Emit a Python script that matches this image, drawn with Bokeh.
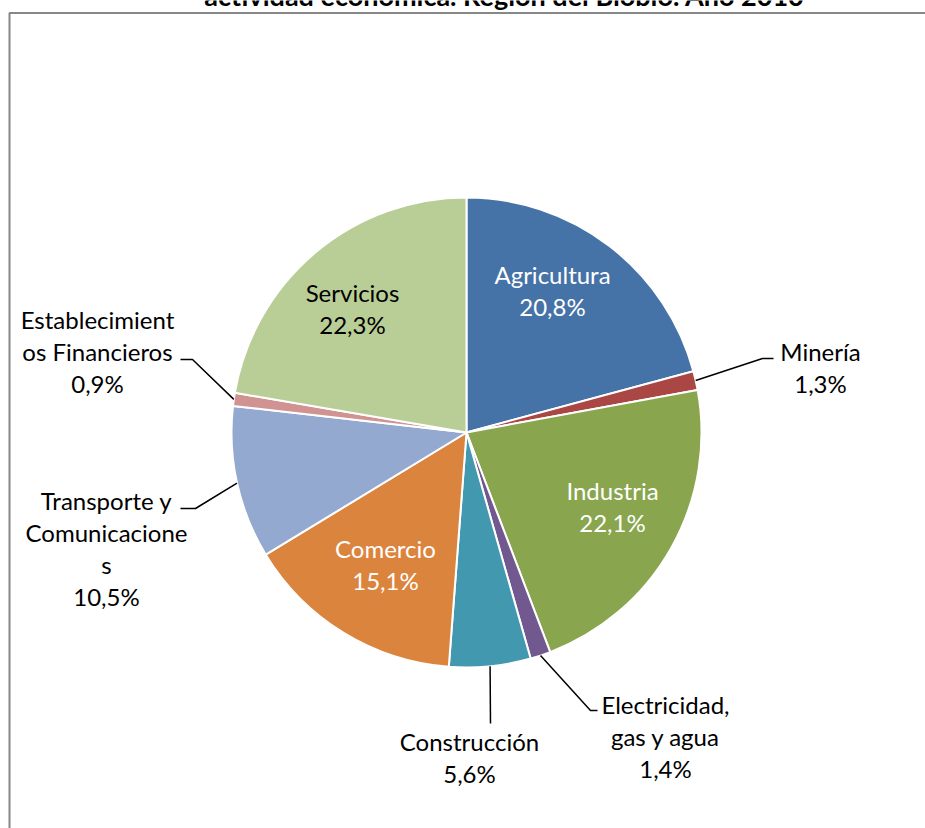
import math
from bokeh.plotting import figure
from bokeh.models import Range1d, ColumnDataSource
from bokeh.core.properties import value
from bokeh.embed import file_html
from bokeh.resources import INLINE

# ---------------- data ----------------
categories = ["Agricultura", "Minería", "Industria", "Electricidad, gas y agua",
              "Construcción", "Comercio", "Transporte y Comunicaciones",
              "Establecimientos Financieros", "Servicios"]
shares = [20.8, 1.3, 22.1, 1.4, 5.6, 15.1, 10.5, 0.9, 22.3]
label_names = ["Agricultura", "Minería", "Industria", "Electricidad,\ngas y agua",
               "Construcción", "Comercio", "Transporte y\nComunicacione\ns",
               "Establecimient\nos Financieros", "Servicios"]
colors = ["#4572A7", "#AA4643", "#89A54E", "#71588F", "#4198AF",
          "#DB843D", "#93A9CF", "#D19392", "#B9CD96"]
label_colors = ["white", "black", "white", "black", "black",
                "white", "black", "black", "black"]
title_text = "actividad económica. Región del Biobío. Año 2010"

# ---------------- layout (page pixels) ----------------
W, H = 925, 828
OX, OY = 0, 0          # page offset of canvas


def P(px, py):
    return px - OX, H - (py - OY)


CX, CY, R = 466, 432, 235
# label block centres (page px)
label_pos = [(552, 290), (820, 367), (612, 506), (665, 736), (469, 757),
             (385, 564), (106, 548), (97, 351), (352, 308)]
# leader elbows / ends for outside labels (page px), None = inside label
leader = [None, [(762, 358), (773, 358)], None, [(590, 710), (597, 710)],
          [(490, 723)], None, [(195, 508), (180, 508)],
          [(192, 359), (180, 359)], None]

p = figure(width=W, height=H, output_backend="svg", toolbar_location=None,
           x_range=Range1d(0, W), y_range=Range1d(0, H), min_border=0)
p.axis.visible = False
p.grid.visible = False
p.outline_line_color = None
p.background_fill_color = "white"
p.border_fill_color = "white"

# chart area border (left and top visible)
bx0, by0 = P(9, 12.5)
bx1, by1 = P(960, 860)
p.line([bx0, bx0, bx1], [by1, by0, by0], line_color="#878787", line_width=2)

# title (cut off at the top, as in the reference)
tx, ty = P(504, -5)
p.text([tx], [ty], text=[title_text], text_align="center",
       text_baseline="alphabetic", text_font=value("Lato"),
       text_font_style="bold", text_font_size="27px", text_color="black")

# pie
cx, cy = P(CX, CY)
starts, ends, mids = [], [], []
cum = 0.0
total = sum(shares)
for s in shares:
    a0 = cum / total
    cum += s
    a1 = cum / total
    starts.append(math.pi / 2 - 2 * math.pi * a0)
    ends.append(math.pi / 2 - 2 * math.pi * a1)
    mids.append((a0 + a1) / 2)

src = ColumnDataSource(dict(cat=categories, share=shares, start=starts,
                            end=ends, color=colors,
                            x=[cx] * len(shares), y=[cy] * len(shares)))
p.wedge(x="x", y="y", radius=R, radius_units="screen", start_angle="start",
        end_angle="end", direction="clock", fill_color="color",
        line_color="white", line_width=2, source=src)

# leader lines
xs, ys = [], []
for m, ld in zip(mids, leader):
    if ld is None:
        continue
    ang = 2 * math.pi * m
    sx = CX + R * math.sin(ang)
    sy = CY - R * math.cos(ang)
    pts = [(sx, sy)] + ld
    cpts = [P(a, b) for a, b in pts]
    xs.append([c[0] for c in cpts])
    ys.append([c[1] for c in cpts])
p.multi_line(xs, ys, line_color="black", line_width=1.5)

# labels
lx, ly, lt = [], [], []
for name, s, pos in zip(label_names, shares, label_pos):
    x, y = P(*pos)
    lx.append(x)
    ly.append(y)
    lt.append(name + "\n" + f"{s:.1f}".replace(".", ",") + "%")
p.text(lx, ly, text=lt, text_align="center", text_baseline="middle",
       text_font=value("Lato"), text_font_size="24px",
       text_color=label_colors, text_line_height=1.1)

open("out.html", "w").write(file_html(p, INLINE))
